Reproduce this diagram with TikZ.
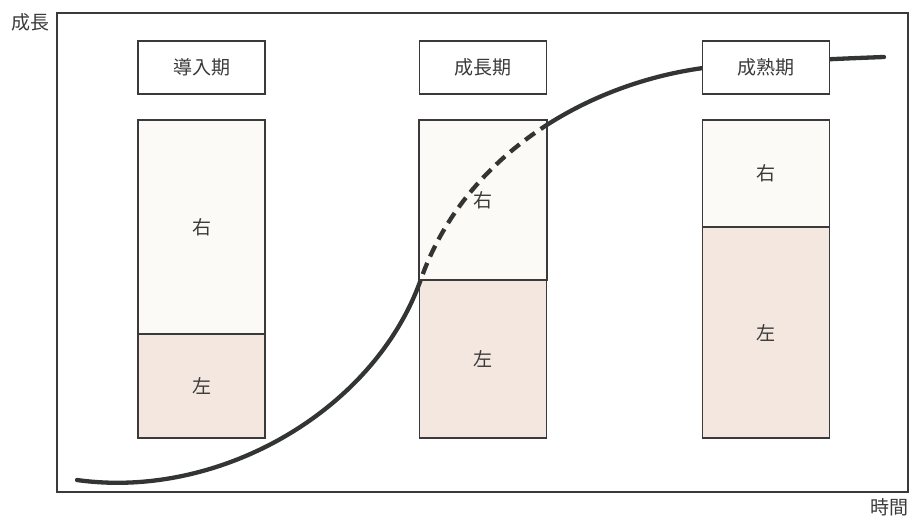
\documentclass[tikz,border=0pt]{standalone}
\usepackage{fontspec}
\newfontfamily\jp{Noto Sans CJK JP}
\definecolor{ink}{HTML}{3A3A3A}
\definecolor{curve}{HTML}{333535}
\definecolor{upfill}{HTML}{FBFAF6}
\definecolor{lowfill}{HTML}{F3E7E0}
\begin{document}
\begin{tikzpicture}[x=1pt,y=-1pt,
  txt/.style={font=\jp\fontsize{19}{21}\selectfont, text=ink},
  labelbox/.style={txt, draw=ink, line width=1.1pt, fill=white, minimum width=127pt, minimum height=53pt, inner sep=0pt},
  upbox/.style={txt, draw=ink, line width=1.1pt, fill=upfill, minimum width=127pt, inner sep=0pt},
  lowbox/.style={txt, draw=ink, line width=1.1pt, fill=lowfill, minimum width=127pt, inner sep=0pt},
  growth/.style={draw=curve, line width=4.3pt, line cap=round}]
\useasboundingbox (0,0) rectangle (912,517);
% frame
\draw[ink, line width=1.1pt] (57,13) rectangle (908,492);
\node[txt] (ylab) at (30,22) {成長};
\node[txt] (xlab) at (889,507) {時間};
% tall boxes
\node[upbox, minimum height=214pt] (u1) at (201.5,227) {右};
\node[lowbox, minimum height=104pt] (l1) at (201.5,386) {左};
\node[upbox, minimum height=160pt] (u2) at (483,200) {右};
\node[lowbox, minimum height=158pt] (l2) at (483,359) {左};
\node[upbox, minimum height=107pt] (u3) at (766,173.5) {右};
\node[lowbox, minimum height=211pt] (l3) at (766,332.5) {左};
% growth curve (solid)
\coordinate (c0) at (77,480);
\coordinate (c1) at (421,279);
\coordinate (c2) at (703,68);
\coordinate (c3) at (884,57);
\def\growthpath{(c0) .. controls (220,500) and (375,410) .. (c1) .. controls (463,160) and (580,85) .. (c2) .. controls (760,62) and (830,59) .. (c3)}
\draw[growth] \growthpath;
% cover the part inside the upper box of the growth stage and redraw dashed
\node[upbox, minimum height=160pt] (u2b) at (483,200) {右};
\begin{scope}
  \clip (u2b.north west) rectangle (u2b.south east);
  \draw[growth, line cap=butt, dash pattern=on 12pt off 7pt, dash phase=3pt] \growthpath;
\end{scope}
\draw[ink, line width=1.1pt] (u2b.north west) rectangle (u2b.south east);
% stage labels
\node[labelbox] (s1) at (201.5,67.5) {導入期};
\node[labelbox] (s2) at (483,67.5) {成長期};
\node[labelbox] (s3) at (766,67.5) {成熟期};
\end{tikzpicture}
\end{document}
